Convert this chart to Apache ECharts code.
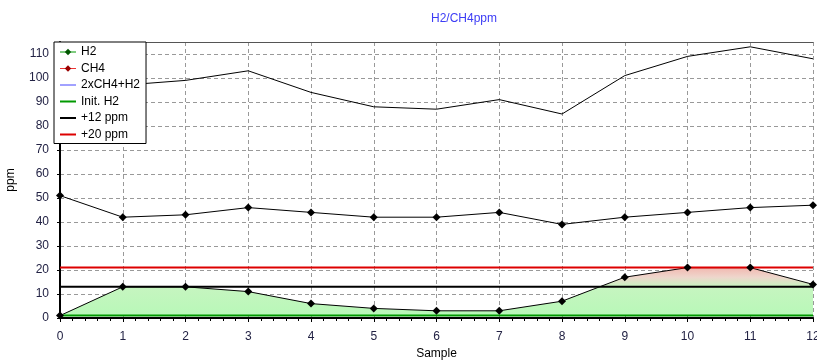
<!DOCTYPE html>
<html>
<head>
<meta charset="utf-8">
<script src="https://cdn.jsdelivr.net/npm/echarts@6/dist/echarts.min.js"></script>
<style>
  html, body { margin: 0; padding: 0; background: #fff; }
  #main { width: 817px; height: 360px; }
</style>
</head>
<body>
<div id="main"></div>
<script>
// sample numbers on the x axis
const samples = [0, 1, 2, 3, 4, 5, 6, 7, 8, 9, 10, 11, 12];
// ppm values
const h2 = [1, 13, 13, 11, 6, 4, 3, 3, 7, 17, 21, 21, 14];
const ch4 = [51, 42, 43, 46, 44, 42, 42, 44, 39, 42, 44, 46, 47];
const total = [103, 97, 99, 103, 94, 88, 87, 91, 85, 101, 109, 113, 108];
// reference levels
const initH2 = 1;
const plus12 = 13;
const plus20 = 21;

const font = "Liberation Sans, Arial, sans-serif";

const pairs = (vals) => samples.map((s, i) => [s, vals[i]]);
const flat = (level) => [[samples[0], level], [samples[samples.length - 1], level]];

const chart = echarts.init(document.getElementById("main"));

const option = {
  animation: false,
  textStyle: { fontFamily: font },
  title: {
    text: "H2/CH4ppm",
    left: 426,
    top: 8,
    textStyle: { color: "#3c3cf5", fontSize: 12, fontWeight: "normal", fontFamily: font }
  },
  legend: {
    orient: "vertical",
    left: 54,
    top: 42,
    padding: [4, 6, 3, 5],
    itemGap: 4.5,
    itemWidth: 16,
    itemHeight: 8,
    backgroundColor: "#fff",
    borderColor: "#000",
    borderWidth: 1,
    borderRadius: 0,
    textStyle: { fontSize: 12, color: "#000", fontFamily: font, lineHeight: 12 },
    data: [
      { name: "H2", itemStyle: { color: "#005500" }, lineStyle: { color: "#009900", width: 1 } },
      { name: "CH4", itemStyle: { color: "#990000" }, lineStyle: { color: "#ee3333", width: 1 } },
      { name: "2xCH4+H2", itemStyle: { opacity: 0 }, lineStyle: { color: "#4444ff", width: 1 } },
      { name: "Init. H2", itemStyle: { opacity: 0 }, lineStyle: { color: "#009900", width: 2 } },
      { name: "+12 ppm", itemStyle: { opacity: 0 }, lineStyle: { color: "#000", width: 2 } },
      { name: "+20 ppm", itemStyle: { opacity: 0 }, lineStyle: { color: "#dd0000", width: 2 } }
    ]
  },
  grid: {
    left: 60,
    right: 4,
    top: 42,
    bottom: 42,
    outerBoundsMode: "none",
    containLabel: false
  },
  xAxis: [
    {
      type: "value",
      min: 0,
      max: 12,
      interval: 1,
      offset: 2,
      name: "Sample",
      nameLocation: "middle",
      nameGap: 27,
      nameTextStyle: { color: "#000", fontSize: 12, fontFamily: font },
      axisLine: { lineStyle: { color: "#000", width: 2 } },
      axisTick: { length: 4, lineStyle: { color: "#000" } },
      minorTick: { show: true, splitNumber: 5, length: 3, lineStyle: { color: "#000" } },
      axisLabel: { color: "#222244", fontSize: 12, margin: 11, fontFamily: font },
      splitLine: { show: true, lineStyle: { color: "#999", type: [4, 3], width: 1 } }
    },
    {
      type: "value",
      position: "top",
      min: 0,
      max: 12,
      axisLine: { show: true, lineStyle: { color: "#555", width: 1 } },
      axisTick: { show: false },
      axisLabel: { show: false },
      splitLine: { show: false }
    }
  ],
  yAxis: {
    type: "value",
    min: 0,
    max: 115,
    interval: 10,
    offset: 5,
    name: "ppm",
    nameLocation: "middle",
    nameGap: 38,
    nameTextStyle: { color: "#000", fontSize: 12, fontFamily: font },
    axisLine: { show: true, lineStyle: { color: "#000", width: 2 } },
    axisTick: { show: true, length: 3, lineStyle: { color: "#000" } },
    axisLabel: { color: "#222244", fontSize: 12, margin: 6, fontFamily: font, showMaxLabel: false },
    splitLine: { show: true, lineStyle: { color: "#999", type: [4, 3], width: 1 } }
  },
  series: [
    {
      name: "H2",
      type: "line",
      data: pairs(h2),
      symbol: "diamond",
      symbolSize: 8,
      z: 3,
      itemStyle: { color: "#000" },
      lineStyle: { color: "#000", width: 1 },
      areaStyle: {
        origin: initH2,
        opacity: 1,
        color: new echarts.graphic.LinearGradient(0, 0, 0, 1, [
          { offset: 0, color: "#f2b8b0" },
          { offset: 0.2, color: "#eed6cc" },
          { offset: 0.4, color: "#c6f5c0" },
          { offset: 1, color: "#b8f8b8" }
        ])
      }
    },
    {
      name: "CH4",
      type: "line",
      data: pairs(ch4),
      symbol: "diamond",
      symbolSize: 8,
      z: 3,
      itemStyle: { color: "#000" },
      lineStyle: { color: "#000", width: 1 }
    },
    {
      name: "2xCH4+H2",
      type: "line",
      data: pairs(total),
      symbol: "none",
      z: 3,
      itemStyle: { color: "#000" },
      lineStyle: { color: "#000", width: 1 }
    },
    {
      name: "Init. H2",
      type: "line",
      data: flat(initH2),
      symbol: "none",
      itemStyle: { color: "#009900" },
      lineStyle: { color: "#009900", width: 2 }
    },
    {
      name: "+12 ppm",
      type: "line",
      data: flat(plus12),
      symbol: "none",
      itemStyle: { color: "#000" },
      lineStyle: { color: "#000", width: 2 }
    },
    {
      name: "+20 ppm",
      type: "line",
      data: flat(plus20),
      symbol: "none",
      itemStyle: { color: "#dd0000" },
      lineStyle: { color: "#dd0000", width: 2 }
    }
  ]
};

chart.setOption(option);
</script>
</body>
</html>
